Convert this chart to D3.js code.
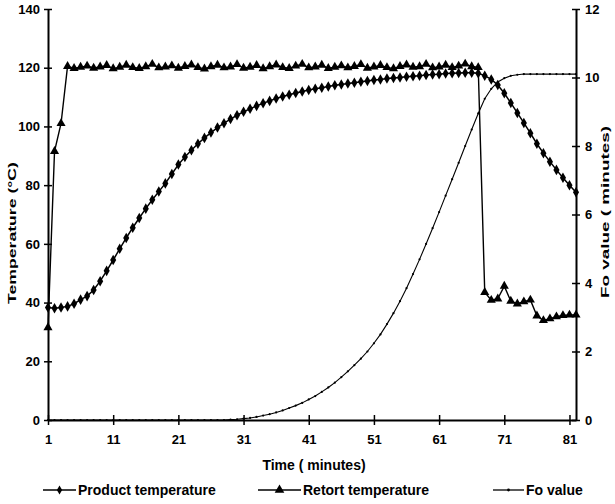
<!DOCTYPE html>
<html>
<head>
<meta charset="utf-8">
<script src="https://cdn.jsdelivr.net/npm/d3@7"></script>
<style>
  body { margin: 0; background: #fff; }
  text { font-family: "Liberation Sans", Arial, sans-serif; font-weight: bold; fill: #000; }
</style>
</head>
<body>
<svg id="chart" width="615" height="504"></svg>
<script>
// minutes 1..82 (category axis)
var minutes = d3.range(1, 83);

var productTemp = [
  38.3, 38.1, 38.3, 38.7, 39.6, 41.0, 42.2, 44.3, 47.3, 50.8,
  54.5, 58.3, 62.0, 65.5, 68.8, 72.0, 75.0, 77.8, 80.6, 83.8,
  87.0, 89.6, 91.9, 94.1, 96.1, 97.9, 99.6, 101.1, 102.5, 103.8,
  105.0, 106.0, 107.0, 107.9, 108.7, 109.5, 110.2, 110.8, 111.4, 111.9,
  112.4, 112.8, 113.2, 113.6, 114.0, 114.3, 114.6, 114.9, 115.2, 115.5,
  115.8, 116.0, 116.3, 116.5, 116.7, 116.9, 117.1, 117.3, 117.5, 117.7,
  117.8, 118.0, 118.1, 118.2, 118.3, 118.3, 118.1, 117.3, 116.0, 114.1,
  111.3, 108.0, 104.6, 101.2, 97.7, 94.1, 90.9, 88.0, 85.2, 82.5,
  80.0, 77.6
];

var retortTemp = [
  31.5, 91.5, 101.0, 120.5, 119.8, 120.2, 120.6, 119.9, 120.3, 120.8,
  119.7, 120.2, 120.9, 120.1, 119.8, 120.4, 121.2, 120.0, 120.3, 120.7,
  119.9, 120.5, 121.0, 120.1, 119.6, 120.4, 120.9, 120.0, 120.3, 121.1,
  119.9, 120.2, 120.8, 119.7, 120.4, 121.0, 120.1, 119.8, 120.6, 121.2,
  120.0, 120.3, 120.9, 119.8, 120.2, 120.7, 120.0, 120.5, 121.1, 119.9,
  120.3, 120.8, 120.1, 119.7, 120.5, 121.0, 120.2, 120.4, 121.2, 120.0,
  120.3, 120.9, 120.1, 120.6, 121.3, 120.4, 120.1, 43.5, 40.8, 41.3,
  45.6, 40.5, 39.6, 40.3, 40.9, 35.5, 33.9, 34.5, 35.2, 35.6,
  35.8, 35.8
];

var foValue = [
  0, 0, 0, 0, 0, 0, 0, 0, 0, 0,
  0, 0, 0, 0, 0, 0, 0, 0, 0, 0,
  0, 0, 0, 0, 0, 0, 0, 0, 0.01, 0.02,
  0.04, 0.06, 0.09, 0.13, 0.17, 0.22, 0.28, 0.35, 0.42, 0.50,
  0.60, 0.70, 0.82, 0.95, 1.09, 1.25, 1.42, 1.60, 1.79, 2.00,
  2.24, 2.50, 2.80, 3.12, 3.47, 3.85, 4.26, 4.69, 5.14, 5.60,
  6.07, 6.55, 7.03, 7.51, 8.00, 8.48, 8.95, 9.38, 9.67, 9.87,
  9.98, 10.05, 10.08, 10.1, 10.1, 10.1, 10.1, 10.1, 10.1, 10.1,
  10.1, 10.1
];

var xTicks = [1, 11, 21, 31, 41, 51, 61, 71, 81];
var tempTicks = [0, 20, 40, 60, 80, 100, 120, 140];
var foTicks = [0, 2, 4, 6, 8, 10, 12];

var svg = d3.select("#chart");

var x = d3.scaleLinear().domain([1, 82]).range([48, 576]);
var yT = d3.scaleLinear().domain([0, 140]).range([420, 9]);
var yF = d3.scaleLinear().domain([0, 12]).range([420, 9]);

// axes - ticks cross the axis line like the excel original
function styleAxis(g) {
  g.select(".domain").attr("stroke", "#000").attr("stroke-width", 2);
  g.selectAll(".tick text").style("font-size", "13px");
}

var xAxis = svg.append("g")
  .attr("transform", "translate(0,420)")
  .call(d3.axisBottom(x).tickValues(xTicks).tickFormat(d3.format("d")).tickSize(0).tickSizeOuter(0).tickPadding(15));
styleAxis(xAxis);
xAxis.selectAll(".tick").append("line").attr("y1", -5).attr("y2", 5).attr("stroke", "#000").attr("stroke-width", 1.5);

var yAxisL = svg.append("g")
  .attr("transform", "translate(48,0)")
  .call(d3.axisLeft(yT).tickValues(tempTicks).tickSize(0).tickSizeOuter(0).tickPadding(8));
styleAxis(yAxisL);
yAxisL.selectAll(".tick").append("line").attr("x1", -4).attr("x2", 4).attr("stroke", "#000").attr("stroke-width", 1.5);

var yAxisR = svg.append("g")
  .attr("transform", "translate(576,0)")
  .call(d3.axisRight(yF).tickValues(foTicks).tickSize(0).tickSizeOuter(0).tickPadding(9));
styleAxis(yAxisR);
yAxisR.selectAll(".tick").append("line").attr("x1", -4).attr("x2", 4).attr("stroke", "#000").attr("stroke-width", 1.5);

// axis titles (scanned original is stretched along the text direction)
svg.append("text")
  .attr("transform", "translate(16,233) rotate(-90)")
  .attr("text-anchor", "middle")
  .attr("textLength", 142).attr("lengthAdjust", "spacingAndGlyphs")
  .style("font-size", "11.5px")
  .text("Temperature (°C)");

svg.append("text")
  .attr("transform", "translate(609,212) rotate(-90)")
  .attr("text-anchor", "middle")
  .attr("textLength", 172).attr("lengthAdjust", "spacingAndGlyphs")
  .style("font-size", "11.5px")
  .text("Fo value ( minutes)");

svg.append("text")
  .attr("x", 314).attr("y", 470)
  .attr("text-anchor", "middle")
  .style("font-size", "14px")
  .text("Time ( minutes)");

// series
var lineT = d3.line().x(function(d, i) { return x(minutes[i]); }).y(function(d) { return yT(d); });
var lineF = d3.line().x(function(d, i) { return x(minutes[i]); }).y(function(d) { return yF(d); });

var diamond = d3.symbol().type(d3.symbolDiamond).size(32);
var triangle = d3.symbol().type(d3.symbolTriangle).size(36);

// Fo value
svg.append("path").attr("d", lineF(foValue)).attr("fill", "none").attr("stroke", "#000").attr("stroke-width", 1.1);
svg.selectAll(".fo").data(foValue).enter().append("circle")
  .attr("cx", function(d, i) { return x(minutes[i]); })
  .attr("cy", function(d) { return yF(d); })
  .attr("r", 1.1);

// retort temperature
svg.append("path").attr("d", lineT(retortTemp)).attr("fill", "none").attr("stroke", "#000").attr("stroke-width", 1.4);
svg.selectAll(".ret").data(retortTemp).enter().append("path")
  .attr("d", triangle)
  .attr("transform", function(d, i) { return "translate(" + x(minutes[i]) + "," + yT(d) + ")"; });

// product temperature
svg.append("path").attr("d", lineT(productTemp)).attr("fill", "none").attr("stroke", "#000").attr("stroke-width", 1.5);
svg.selectAll(".prod").data(productTemp).enter().append("path")
  .attr("d", diamond)
  .attr("transform", function(d, i) { return "translate(" + x(minutes[i]) + "," + yT(d) + ")"; });

// legend
var legend = [
  { label: "Product temperature", x1: 43, x2: 76, sym: "diamond" },
  { label: "Retort temperature", x1: 258, x2: 301, sym: "triangle" },
  { label: "Fo value", x1: 493, x2: 524, sym: "dot" }
];
var lg = svg.selectAll(".lg").data(legend).enter().append("g");
lg.append("line")
  .attr("x1", function(d) { return d.x1; }).attr("x2", function(d) { return d.x2; })
  .attr("y1", 490).attr("y2", 490)
  .attr("stroke", "#000").attr("stroke-width", 1.3);
lg.append("path")
  .attr("d", function(d) {
    if (d.sym == "diamond") return d3.symbol().type(d3.symbolDiamond).size(24)();
    if (d.sym == "triangle") return d3.symbol().type(d3.symbolTriangle).size(40)();
    return d3.symbol().type(d3.symbolCircle).size(6)();
  })
  .attr("transform", function(d) { return "translate(" + (d.x1 + d.x2) / 2 + ",490)"; });
lg.append("text")
  .attr("x", function(d) { return d.x2 + 2; })
  .attr("y", 495)
  .style("font-size", "14px")
  .text(function(d) { return d.label; });
</script>
</body>
</html>
